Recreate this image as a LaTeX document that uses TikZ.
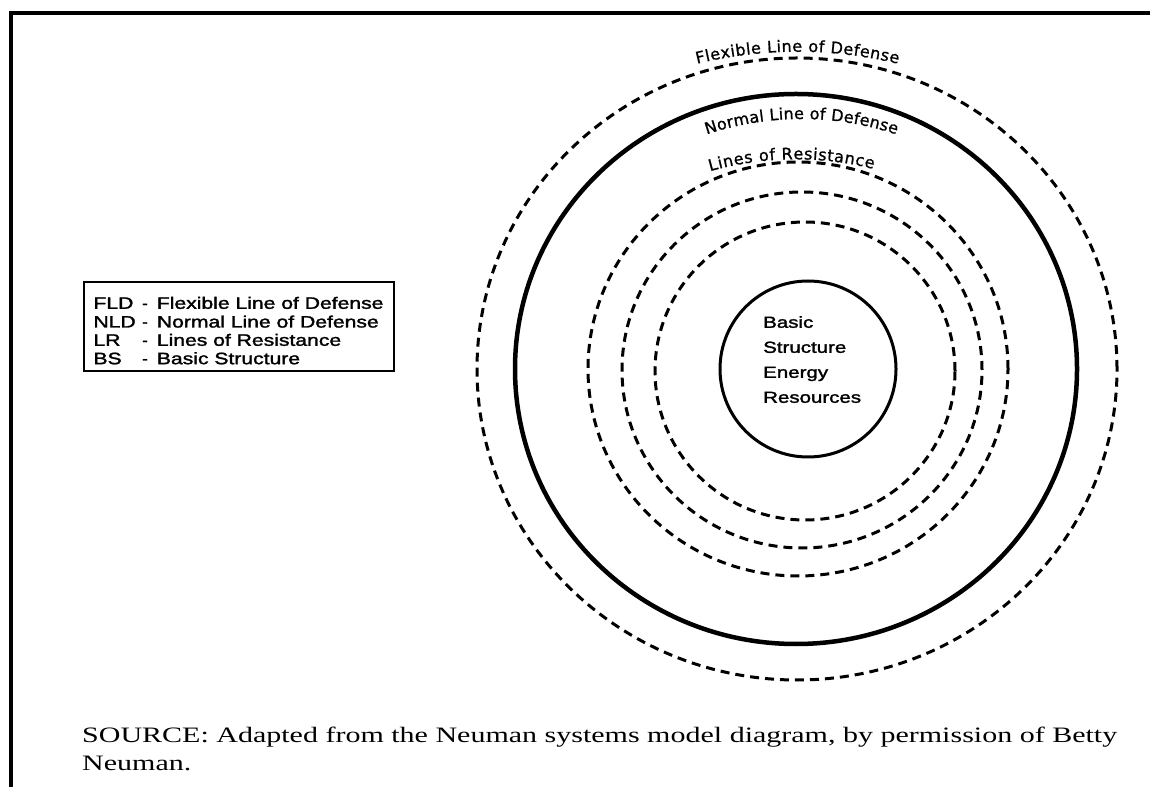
\documentclass[tikz,border=0pt]{standalone}
\usepackage{fontspec}
\setmainfont{Liberation Sans}[BoldFont={Liberation Sans}, BoldFeatures={FakeBold=1.5}]
\newfontfamily\arcfont{DejaVu Sans}[BoldFont={DejaVu Sans}, BoldFeatures={FakeBold=1}]
\newfontfamily\srcfont{Liberation Serif}
\usetikzlibrary{decorations.text}
\newcommand{\wide}[1]{\scalebox{1.28}[1]{#1}}
\newlength\srcw
\begin{document}
\settowidth{\srcw}{\srcfont\fontsize{22}{22}\selectfont SOURCE: Adapted from the Neuman systems model diagram, by permission of Betty}%
\pgfmathsetmacro{\srcscale}{1035/\srcw}%
\begin{tikzpicture}[x=1pt,y=1pt,
  ring/.style={line width=3pt, dash pattern=on 9pt off 6pt},
  solidring/.style={line width=4.5pt},
  lg/.style={font=\bfseries\fontsize{16.5}{16.5}\selectfont, inner sep=0pt, anchor=base west},
  lgdash/.style={font=\bfseries\fontsize{16.5}{16.5}\selectfont, inner sep=0pt, anchor=base},
  src/.style={font=\srcfont\fontsize{22}{22}\selectfont, inner sep=0pt, anchor=base west},
  arclabel/.style={decorate, decoration={text along path, text align={fit to path},
      text={|\arcfont\bfseries\fontsize{16}{16}\selectfont|#1}}}]
\useasboundingbox (0,0) rectangle (1150,787);
\fill[white] (0,0) rectangle (1150,787);
% frame
\draw[line width=4pt, line join=miter] (10.5,0) -- (10.5,773.7) -- (1150,773.7);
% centre
\coordinate (c) at (797,418);
% rings
\draw[ring] (797,418) ellipse [x radius=320, y radius=311];
\draw[solidring] (796,418) ellipse [x radius=281, y radius=275];
\draw[ring] (798,418) ellipse [x radius=210, y radius=207];
\draw[ring] (802,417) ellipse [x radius=180, y radius=178];
\draw[ring] (805,416) ellipse [x radius=150, y radius=149];
\node[circle, draw, line width=3pt, minimum size=176pt, inner sep=0pt] (bs) at (808,418) {};
\node[anchor=north west, inner sep=0pt, align=left, font=\bfseries\fontsize{16}{25}\selectfont] (bstext) at (763,471)
  {\wide{Basic}\\\wide{Structure}\\\wide{Energy}\\\wide{Resources}};
% curved labels
\path[arclabel={Flexible Line of Defense}] ([shift={(797.5,310.3)}]103.68:425) arc[start angle=103.68, end angle=76.32, radius=425];
\path[arclabel={Normal Line of Defense}] ([shift={(801.5,369)}]108.49:299) arc[start angle=108.49, end angle=71.51, radius=299];
\path[arclabel={Lines of Resistance}] ([shift={(796,311.7)}]105.79:316) arc[start angle=105.79, end angle=75.84, radius=316];
% legend
\node[draw, line width=2pt, minimum width=310pt, minimum height=88.4pt, inner sep=0pt, anchor=south west] (legend) at (83.3,415.3) {};
\node[lg] (fld) at (93.3,478.2) {\wide{FLD}};
\node[lgdash] (fldd) at (145,478.2) {-};
\node[lg] (fldt) at (156.7,478.2) {\wide{Flexible Line of Defense}};
\node[lg] (nld) at (93.3,459.5) {\wide{NLD}};
\node[lgdash] (nldd) at (145,459.5) {-};
\node[lg] (nldt) at (156.7,459.5) {\wide{Normal Line of Defense}};
\node[lg] (lr) at (93.3,441.2) {\wide{LR}};
\node[lgdash] (lrd) at (145,441.2) {-};
\node[lg] (lrt) at (156.7,441.2) {\wide{Lines of Resistance}};
\node[lg] (bsl) at (93.3,422.8) {\wide{BS}};
\node[lgdash] (bsd) at (145,422.8) {-};
\node[lg] (bst) at (156.7,422.8) {\wide{Basic Structure}};
% source
\node[src] (src1) at (82,45) {\scalebox{\srcscale}[1]{SOURCE: Adapted from the Neuman systems model diagram, by permission of Betty}};
\node[src] (src2) at (82,17) {\scalebox{\srcscale}[1]{Neuman.}};
\end{tikzpicture}
\end{document}
